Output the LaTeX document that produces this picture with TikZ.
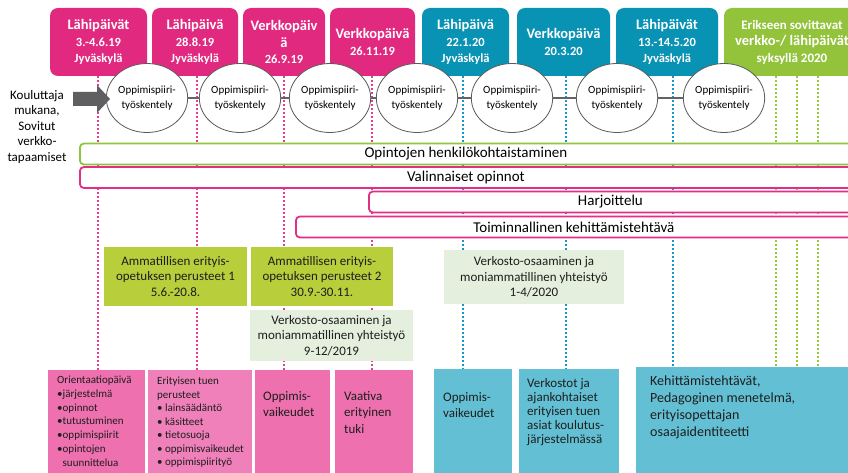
\documentclass[tikz,border=0pt]{standalone}
\usepackage{fontspec}
\setmainfont{Carlito}
\usetikzlibrary{shapes.geometric}

\definecolor{hdrPink}{RGB}{226,41,128}
\definecolor{hdrBlue}{RGB}{8,146,180}
\definecolor{hdrGreen}{RGB}{146,195,58}
\definecolor{barGreen}{RGB}{140,198,63}
\definecolor{barPink}{RGB}{228,45,133}
\definecolor{limeBox}{RGB}{184,206,58}
\definecolor{paleBox}{RGB}{229,239,221}
\definecolor{lowPink}{RGB}{238,112,175}
\definecolor{lowPinkB}{RGB}{240,128,186}
\definecolor{lowBlue}{RGB}{99,192,212}
\definecolor{dotPink}{RGB}{232,60,145}
\definecolor{dotBlue}{RGB}{25,150,200}
\definecolor{dotGreen}{RGB}{150,200,55}
\definecolor{ellLine}{RGB}{90,90,90}
\definecolor{linkGray}{RGB}{100,100,100}
\definecolor{arrowGray}{RGB}{95,95,97}
\definecolor{inkDark}{RGB}{30,30,30}

\newcommand\hdrtitle{\fontsize{14.5}{16.5}\selectfont\bfseries}
\newcommand\hdrsub{\fontsize{12.5}{16.5}\selectfont\bfseries}
\newcommand\hdrmid{\fontsize{13}{16.5}\selectfont\bfseries}

\tikzset{
  hdr/.style={rectangle, rounded corners=8pt, minimum height=68pt, text=white,
    align=center, inner sep=0pt, font=\hdrsub},
  circ/.style={ellipse, draw=ellLine, line width=0.8pt, fill=white,
    minimum width=79pt, minimum height=69pt, inner sep=0pt, align=center,
    font=\fontsize{11}{15}\selectfont},
  link/.style={draw=linkGray, line width=2pt},
  tick/.style={line width=1.8pt, dash pattern=on 1.8pt off 2.2pt},
  bar/.style={rectangle, rounded corners=4pt, line width=1.8pt, fill=white,
    minimum height=21pt, inner sep=0pt, anchor=west,
    font=\fontsize{15}{17}\selectfont},
  course/.style={rectangle, inner sep=0pt, align=center, text=inkDark,
    font=\fontsize{13}{15.5}\selectfont},
  slab/.style={rectangle, inner sep=0pt, anchor=north west},
  slabtext/.style={anchor=north west, inner sep=0pt, align=left, text=inkDark},
}

\begin{document}
\begin{tikzpicture}[x=1pt, y=-1pt]
\path[use as bounding box] (0,0) rectangle (848,473);
\clip (0,0) rectangle (848,473);
\fill[white] (0,0) rectangle (848,473);

% timeline markers below each meeting day
\foreach \xx in {98,197,284,372}
  \draw[tick, dotPink] (\xx,76) -- (\xx,370);
\foreach \xx in {463,566,673}
  \draw[tick, dotBlue] (\xx,76) -- (\xx,369);
\foreach \xx in {776,797,818}
  \draw[tick, dotGreen] (\xx,76) -- (\xx,368);

% meeting days
\node[hdr, fill=hdrPink, minimum width=97pt] (h1) at (98.5,42)
  {{\hdrtitle Lähipäivät}\\3.-4.6.19\\Jyväskylä};
\node[hdr, fill=hdrPink, minimum width=86pt] (h2) at (195,42)
  {{\hdrtitle Lähipäivä}\\28.8.19\\Jyväskylä};
\node[hdr, fill=hdrPink, minimum width=82pt] (h3) at (284,42)
  {{\hdrtitle Verkkopäiv}\\{\hdrtitle ä}\\26.9.19};
\node[hdr, fill=hdrPink, minimum width=85pt] (h4) at (372.5,42)
  {{\hdrtitle Verkkopäivä}\\26.11.19};
\node[hdr, fill=hdrBlue, minimum width=87pt] (h5) at (465.5,42)
  {{\hdrtitle Lähipäivä}\\22.1.20\\Jyväskylä};
\node[hdr, fill=hdrBlue, minimum width=93pt] (h6) at (563.5,42)
  {{\hdrtitle Verkkopäivä}\\20.3.20};
\node[hdr, fill=hdrBlue, minimum width=102pt] (h7) at (667,42)
  {{\hdrtitle Lähipäivät}\\13.-14.5.20\\Jyväskylä};
\node[hdr, fill=hdrGreen, minimum width=136pt] (h8) at (792,42)
  {{\hdrmid Erikseen sovittavat}\\{\hdrtitle verkko-/ lähipäivät}\\{\hdrmid syksyllä 2020}};

% learning circle sessions
\node[circ] (e1) at (147,98) {Oppimispiiri-\\työskentely};
\node[circ] (e2) at (240,98) {Oppimispiiri-\\työskentely};
\node[circ] (e3) at (330,98) {Oppimispiiri-\\työskentely};
\node[circ] (e4) at (417,98) {Oppimispiiri-\\työskentely};
\node[circ] (e5) at (512,98) {Oppimispiiri-\\työskentely};
\node[circ] (e6) at (617,98) {Oppimispiiri-\\työskentely};
\node[circ] (e7) at (724,98) {Oppimispiiri-\\työskentely};
\draw[link] (e1) -- (e2);
\draw[link] (e2) -- (e3);
\draw[link] (e3) -- (e4);
\draw[link] (e4) -- (e5);
\draw[link] (e5) -- (e6);
\draw[link] (e6) -- (e7);

% block arrow and its caption
\fill[arrowGray] (73,92) -- (97,92) -- (97,85) -- (110,99) -- (97,113)
  -- (97,106) -- (73,106) -- cycle;
\node[align=center, inner sep=0pt, font=\fontsize{13}{15.5}\selectfont] (trainer)
  at (37,127) {Kouluttaja\\mukana,\\Sovitut\\verkko-\\tapaamiset};

% study strands
\node[bar, draw=barGreen, minimum width=772pt] (henk) at (79,154)
  {Opintojen henkilökohtaistaminen};
\node[bar, draw=barPink, minimum width=772pt] (valin) at (79,177.5)
  {Valinnaiset opinnot};
\node[bar, draw=barPink, minimum width=483pt] (harj) at (368,202)
  {Harjoittelu};
\node[bar, draw=barPink, minimum width=556pt] (toim) at (295,227)
  {Toiminnallinen kehittämistehtävä};

% courses
\node[course, fill=limeBox, minimum width=143pt, minimum height=59pt] (c1)
  at (175.5,276.5) {Ammatillisen erityis-\\opetuksen perusteet 1\\5.6.-20.8.};
\node[course, fill=limeBox, minimum width=142pt, minimum height=59pt] (c2)
  at (322,276.5) {Ammatillisen erityis-\\opetuksen perusteet 2\\30.9.-30.11.};
\node[course, fill=paleBox, minimum width=163pt, minimum height=51pt] (c3)
  at (331.5,335.5) {Verkosto-osaaminen ja\\moniammatillinen yhteistyö\\9-12/2019};
\node[course, fill=paleBox, minimum width=180pt, minimum height=54pt] (c4)
  at (534,277) {Verkosto-osaaminen ja\\moniammatillinen yhteistyö\\1-4/2020};

% themes of the meetings
\node[slab, fill=lowPink, minimum width=97pt, minimum height=110pt] (t1) at (48,370) {};
\node[slab, fill=lowPinkB, minimum width=104pt, minimum height=110pt] (t2) at (148,370) {};
\node[slab, fill=lowPink, minimum width=75pt, minimum height=110pt] (t3) at (255,370) {};
\node[slab, fill=lowPink, minimum width=78pt, minimum height=110pt] (t4) at (335,370) {};
\node[slab, fill=lowBlue, minimum width=78pt, minimum height=110pt] (t5) at (434,369) {};
\node[slab, fill=lowBlue, minimum width=100pt, minimum height=110pt] (t6) at (519,369) {};
\node[slab, fill=lowBlue, minimum width=224pt, minimum height=112pt] (t7) at (636,367) {};

\node[slabtext, font=\fontsize{11}{13.7}\selectfont] (t1txt) at (57,376)
  {Orientaatiopäivä\\•järjestelmä\\•opinnot\\•tutustuminen\\•oppimispiirit\\•opintojen\\\phantom{•}suunnittelua};
\node[slabtext, font=\fontsize{11}{13.5}\selectfont] (t2txt) at (157,377)
  {Erityisen tuen\\perusteet\\• lainsäädäntö\\• käsitteet\\• tietosuoja\\• oppimisvaikeudet\\• oppimispiirityö};
\node[slabtext, font=\fontsize{13}{16.5}\selectfont] (t3txt) at (263,391)
  {Oppimis-\\vaikeudet};
\node[slabtext, font=\fontsize{13}{16.8}\selectfont] (t4txt) at (344,391)
  {Vaativa\\erityinen\\tuki};
\node[slabtext, font=\fontsize{13}{16}\selectfont] (t5txt) at (443,392)
  {Oppimis-\\vaikeudet};
\node[slabtext, font=\fontsize{13}{14}\selectfont] (t6txt) at (527,378)
  {Verkostot ja\\ajankohtaiset\\erityisen tuen\\asiat koulutus-\\järjestelmässä};
\node[slabtext, font=\fontsize{14}{17}\selectfont] (t7txt) at (650,376)
  {Kehittämistehtävät,\\Pedagoginen menetelmä,\\erityisopettajan\\osaajaidentiteetti};
\end{tikzpicture}
\end{document}
